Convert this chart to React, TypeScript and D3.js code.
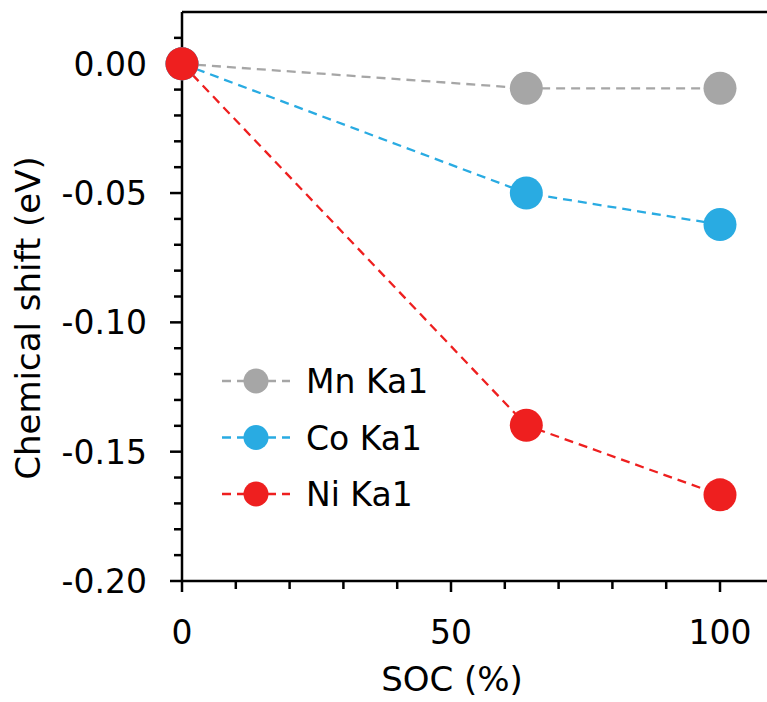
import React, { useEffect, useRef } from "react";
import * as d3 from "d3";

// SOC (%) positions of the three measurements
const socValues = [0, 64, 100];
// chemical shift (eV) per element
const mnShift = [0, -0.0095, -0.0095];
const coShift = [0, -0.05, -0.0622];
const niShift = [0, -0.1398, -0.1667];
const seriesNames = ["Mn Ka1", "Co Ka1", "Ni Ka1"];
const seriesColors = ["#a6a6a6", "#29abe2", "#ee1f1f"];
const xTickValues = [0, 50, 100];
const xTickLabels = ["0", "50", "100"];
const yTickValues = [0, -0.05, -0.1, -0.15, -0.2];
const yTickLabels = ["0.00", "-0.05", "-0.10", "-0.15", "-0.20"];

const W = 767;
const H = 702;
const FONT = "'DejaVu Sans', Verdana, sans-serif";

const App = () => {
    const ref = useRef<SVGSVGElement>(null);

    useEffect(() => {
        const svg = d3.select(ref.current);
        svg.selectAll("*").remove();

        const left = 182, top = 12, bottom = 581;
        const x = d3.scaleLinear().domain([0, 100]).range([left, 720]);
        const y = d3.scaleLinear().domain([-0.2, 0.02]).range([bottom, top]);

        const axes = svg.append("g").attr("stroke", "#000").attr("stroke-width", 2.5);
        // frame: left axis, bottom axis, top line
        axes.append("line").attr("x1", left).attr("x2", left).attr("y1", top).attr("y2", bottom);
        axes.append("line").attr("x1", left).attr("x2", W).attr("y1", bottom).attr("y2", bottom);
        axes.append("line").attr("x1", left).attr("x2", W).attr("y1", top).attr("y2", top);

        // x ticks every 10, major every 50
        d3.range(0, 101, 10).forEach(v => {
            const major = v % 50 === 0;
            axes.append("line")
                .attr("x1", x(v)).attr("x2", x(v))
                .attr("y1", bottom).attr("y2", bottom + (major ? 11 : 8));
        });
        // y ticks every 0.01, major every 0.05
        d3.range(-20, 2, 1).forEach(k => {
            const major = k % 5 === 0;
            axes.append("line")
                .attr("x1", left - (major ? 12 : 8)).attr("x2", left)
                .attr("y1", y(k / 100)).attr("y2", y(k / 100));
        });

        const labels = svg.append("g").style("font-family", FONT).attr("fill", "#000");
        labels.selectAll("text.xt").data(xTickValues).enter().append("text")
            .attr("class", "xt")
            .attr("x", d => x(d)).attr("y", 644)
            .attr("text-anchor", "middle")
            .style("font-size", "33px")
            .text((d, i) => xTickLabels[i]);
        labels.selectAll("text.yt").data(yTickValues).enter().append("text")
            .attr("class", "yt")
            .attr("x", 147).attr("y", d => y(d) + 12)
            .attr("text-anchor", "end")
            .style("font-size", "33px")
            .text((d, i) => yTickLabels[i]);
        labels.append("text")
            .attr("x", 452).attr("y", 691)
            .attr("text-anchor", "middle")
            .style("font-size", "34px")
            .text("SOC (%)");
        labels.append("text")
            .attr("transform", "translate(40,318) rotate(-90)")
            .attr("text-anchor", "middle")
            .style("font-size", "34px")
            .text("Chemical shift (eV)");

        const series = [mnShift, coShift, niShift];
        const line = d3.line<number>().x((d, i) => x(socValues[i])).y(d => y(d));

        series.forEach((vals, s) => {
            svg.append("path")
                .attr("d", line(vals))
                .attr("fill", "none")
                .attr("stroke", seriesColors[s])
                .attr("stroke-width", 2.3)
                .attr("stroke-dasharray", "9,6");
        });
        series.forEach((vals, s) => {
            svg.append("g").selectAll("circle").data(vals).enter().append("circle")
                .attr("cx", (d, i) => x(socValues[i]))
                .attr("cy", d => y(d))
                .attr("r", 16.5)
                .attr("fill", seriesColors[s]);
        });

        // legend
        const legend = svg.append("g");
        seriesNames.forEach((name, s) => {
            const ly = 381 + s * 56.5;
            legend.append("line")
                .attr("x1", 222).attr("x2", 290).attr("y1", ly).attr("y2", ly)
                .attr("stroke", seriesColors[s]).attr("stroke-width", 2.3)
                .attr("stroke-dasharray", "9,6");
            legend.append("circle").attr("cx", 256).attr("cy", ly).attr("r", 12.5)
                .attr("fill", seriesColors[s]);
            legend.append("text")
                .attr("x", 306).attr("y", ly + 12)
                .style("font-family", FONT).style("font-size", "33px")
                .text(name);
        });
    }, []);

    return (
        <div style={{ position: "absolute", left: 0, top: 0 }}>
            <svg ref={ref} width={W} height={H} style={{ display: "block", background: "#fff" }} />
        </div>
    );
};

export default App;
